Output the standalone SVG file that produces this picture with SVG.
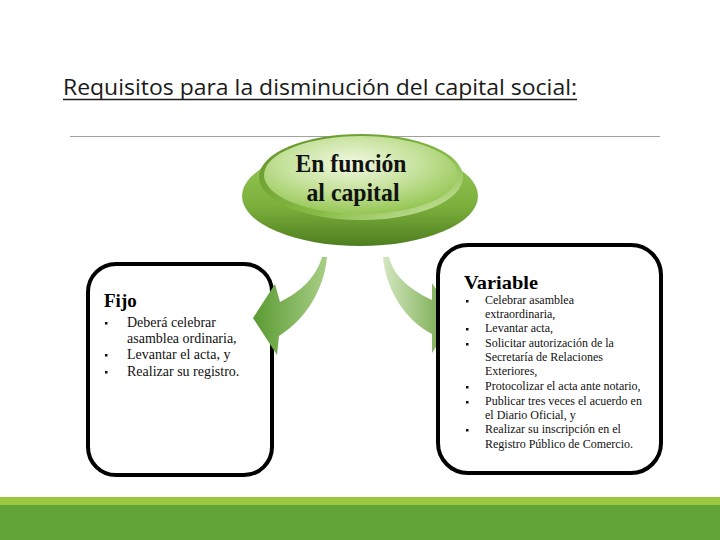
<svg xmlns="http://www.w3.org/2000/svg" width="720" height="540" viewBox="0 0 720 540">
<defs>
<style>
.title{font-family:"Open Sans","Liberation Sans",sans-serif;font-size:22.5px;font-weight:400;fill:#1a1a1a}
.btn{font-family:"Liberation Serif",serif;font-weight:bold;font-size:25px;fill:#111;text-anchor:middle}
.head{font-family:"Liberation Serif",serif;font-weight:bold;font-size:19px;fill:#000}
.l1{font-family:"Liberation Serif",serif;font-size:14px;fill:#111}
.l2{font-family:"Liberation Serif",serif;font-size:12px;fill:#111}
.box{fill:#fff;stroke:#000;stroke-width:4}
</style>
<linearGradient id="base" x1="0" y1="0" x2="0" y2="1">
<stop offset="0" stop-color="#9ACB58"/>
<stop offset="0.6" stop-color="#7CB03C"/>
<stop offset="1" stop-color="#4E7E20"/>
</linearGradient>
<linearGradient id="ring" x1="0" y1="0" x2="1" y2="1">
<stop offset="0" stop-color="#5E8F26"/>
<stop offset="0.6" stop-color="#86BB45"/>
<stop offset="1" stop-color="#D4EAB0"/>
</linearGradient>
<radialGradient id="top" cx="0.45" cy="0.35" r="0.7">
<stop offset="0" stop-color="#F1F8E2"/>
<stop offset="0.5" stop-color="#C6E29C"/>
<stop offset="1" stop-color="#8EC24A"/>
</radialGradient>
<linearGradient id="gl" gradientUnits="userSpaceOnUse" x1="253" y1="0" x2="327" y2="0">
<stop offset="0" stop-color="#5A9A32"/>
<stop offset="1" stop-color="#A8CF86"/>
</linearGradient>
<linearGradient id="gr" gradientUnits="userSpaceOnUse" x1="383" y1="0" x2="455" y2="0">
<stop offset="0" stop-color="#D4E7C0"/>
<stop offset="1" stop-color="#69A13D"/>
</linearGradient>
</defs>
<rect width="720" height="540" fill="#fff"/>
<text class="title" x="63" y="95" textLength="514" lengthAdjust="spacingAndGlyphs">Requisitos para la disminución del capital social:</text>
<line x1="63" y1="99.5" x2="577" y2="99.5" stroke="#1a1a1a" stroke-width="1.6"/>
<line x1="70" y1="136.5" x2="660" y2="136.5" stroke="#a0a0a0" stroke-width="1"/>

<g id="button">
<ellipse cx="360" cy="196" rx="118" ry="50" fill="url(#base)"/>
<ellipse cx="361" cy="177" rx="102" ry="43" fill="url(#ring)"/>
<ellipse cx="361" cy="175" rx="97" ry="39" fill="url(#top)"/>
<text class="btn" x="351" y="172" textLength="111" lengthAdjust="spacingAndGlyphs">En función</text>
<text class="btn" x="353" y="201" textLength="93" lengthAdjust="spacingAndGlyphs">al capital</text>
</g>

<g id="fijo">
<rect class="box" x="88" y="264" width="184" height="211" rx="28"/>
<text class="head" x="104" y="307">Fijo</text>
<g class="l1">
<rect x="105" y="322" width="2.5" height="2.5" fill="#111"/>
<rect x="105" y="354" width="2.5" height="2.5" fill="#111"/>
<rect x="105" y="371" width="2.5" height="2.5" fill="#111"/>
<text x="127" y="327">Deberá celebrar</text>
<text x="127" y="343">asamblea ordinaria,</text>
<text x="127" y="359">Levantar el acta, y</text>
<text x="127" y="376">Realizar su registro.</text>
</g>
</g>

<g id="connectors">
<path d="M 322 257 C 316 278 300 292 280 302 L 275 284 L 253 318 L 277 355 L 279 336 C 305 320 324 290 327 257 Z" fill="url(#gl)"/>
<path d="M 383 257 C 386 290 405 320 432 334 L 432 353 L 455 318 L 432 283 L 432 300 C 410 290 393 275 389 257 Z" fill="url(#gr)"/>
</g>

<g id="variable">
<rect class="box" x="438" y="245" width="223" height="228" rx="30"/>
<text class="head" x="464" y="289" textLength="74" lengthAdjust="spacingAndGlyphs">Variable</text>
<g class="l2">
<rect x="466" y="300" width="2.5" height="2.5" fill="#111"/>
<rect x="466" y="328" width="2.5" height="2.5" fill="#111"/>
<rect x="466" y="343" width="2.5" height="2.5" fill="#111"/>
<rect x="466" y="386" width="2.5" height="2.5" fill="#111"/>
<rect x="466" y="401" width="2.5" height="2.5" fill="#111"/>
<rect x="466" y="429" width="2.5" height="2.5" fill="#111"/>
<text x="485" y="304">Celebrar asamblea</text>
<text x="485" y="318">extraordinaria,</text>
<text x="485" y="332">Levantar acta,</text>
<text x="485" y="347">Solicitar autorización de la</text>
<text x="485" y="361">Secretaría de Relaciones</text>
<text x="485" y="375">Exteriores,</text>
<text x="485" y="390">Protocolizar el acta ante notario,</text>
<text x="485" y="405">Publicar tres veces el acuerdo en</text>
<text x="485" y="419">el Diario Oficial, y</text>
<text x="485" y="433">Realizar su inscripción en el</text>
<text x="485" y="448">Registro Público de Comercio.</text>
</g>
</g>

<rect x="0" y="497" width="720" height="8" fill="#9CC840"/>
<rect x="0" y="505" width="720" height="35" fill="#62A437"/>
</svg>
